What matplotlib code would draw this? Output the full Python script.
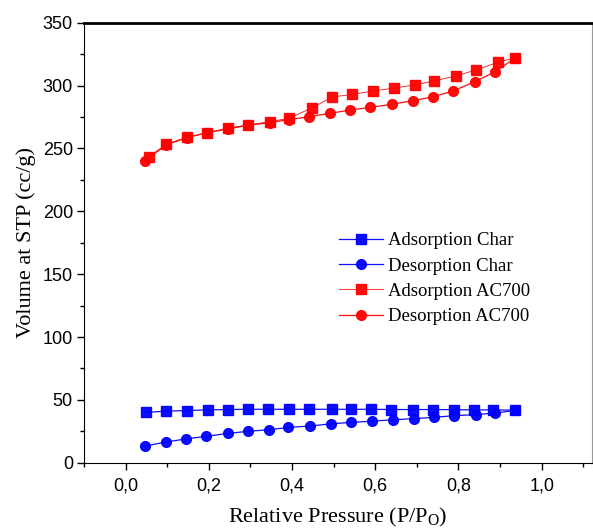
import matplotlib
matplotlib.use("Agg")
import matplotlib.pyplot as plt
from matplotlib.ticker import MultipleLocator, FuncFormatter

# relative pressure points
p_ads_char = [0.048, 0.098, 0.148, 0.197, 0.247, 0.294, 0.343, 0.392, 0.44, 0.495,
              0.542, 0.59, 0.637, 0.69, 0.738, 0.789, 0.837, 0.884, 0.936]
v_ads_char = [40.0, 41.0, 41.5, 42.0, 42.3, 42.5, 42.5, 42.5, 42.5, 42.5,
              42.5, 42.5, 42.3, 42.3, 42.3, 42.2, 42.0, 42.0, 41.8]

p_des_char = [0.047, 0.096, 0.145, 0.194, 0.246, 0.295, 0.344, 0.391, 0.443, 0.493,
              0.542, 0.593, 0.642, 0.694, 0.74, 0.79, 0.842, 0.887, 0.936]
v_des_char = [13.3, 16.4, 18.9, 21.0, 23.3, 25.0, 26.2, 28.0, 29.2, 30.9,
              32.1, 33.0, 34.2, 35.0, 36.1, 37.4, 38.3, 39.4, 41.6]

p_ads_ac = [0.055, 0.098, 0.147, 0.195, 0.246, 0.294, 0.346, 0.393, 0.447, 0.497,
            0.545, 0.594, 0.645, 0.696, 0.742, 0.795, 0.842, 0.894, 0.936]
v_ads_ac = [243.4, 253.3, 259.0, 262.5, 266.3, 268.7, 271.3, 274.0, 282.2, 291.0,
            293.0, 295.7, 298.0, 300.7, 303.7, 307.9, 312.4, 318.5, 322.2]

p_des_ac = [0.046, 0.098, 0.147, 0.195, 0.246, 0.294, 0.346, 0.393, 0.441, 0.492,
            0.54, 0.587, 0.639, 0.691, 0.739, 0.787, 0.839, 0.888, 0.936]
v_des_ac = [240.0, 253.0, 258.5, 262.5, 265.5, 268.5, 270.5, 273.0, 275.3, 278.0,
            280.6, 282.7, 285.1, 288.0, 291.2, 295.7, 303.1, 311.0, 322.0]

plt.rcParams["mathtext.default"] = "regular"
serif = "Liberation Serif"

fig = plt.figure(figsize=(5.93, 5.3), dpi=100)
ax = fig.add_axes([0.1417, 0.127, 0.856, 0.830])

ax.plot(p_ads_char, v_ads_char, color="blue", marker="s", ms=6.5, lw=0.9, alpha=0.95,
        label="Adsorption Char")
ax.plot(p_des_char, v_des_char, color="blue", marker="o", ms=7, lw=0.9, alpha=0.95,
        label="Desorption Char")
ax.plot(p_ads_ac, v_ads_ac, color="red", marker="s", ms=6.5, lw=0.6, alpha=0.95,
        label="Adsorption AC700")
ax.plot(p_des_ac, v_des_ac, color="red", marker="o", ms=7, lw=0.9, alpha=0.95,
        label="Desorption AC700")

ax.set_xlim(-0.1, 1.12)
ax.set_ylim(0, 350)
ax.xaxis.set_major_locator(MultipleLocator(0.2))
ax.xaxis.set_minor_locator(MultipleLocator(0.1))
ax.yaxis.set_major_locator(MultipleLocator(50))
ax.yaxis.set_minor_locator(MultipleLocator(25))
ax.xaxis.set_major_formatter(FuncFormatter(lambda v, pos: f"{v:.1f}".replace(".", ",")))

ax.tick_params(which="both", direction="out", labelsize=13, pad=3)
ax.tick_params(axis="x", which="major", pad=6)
ax.tick_params(which="major", length=5, width=1)
ax.tick_params(which="minor", length=3, width=1)
for lab in ax.get_xticklabels() + ax.get_yticklabels():
    lab.set_fontfamily("Liberation Sans")

ax.spines["top"].set_linewidth(2)
ax.spines["right"].set_color("#999999")
ax.spines["right"].set_linewidth(0.8)

ax.set_xlabel("Relative Pressure (P/P$_{O}$)", fontfamily=serif, fontsize=16, labelpad=8)
ax.set_ylabel("Volume at STP (cc/g)", fontfamily=serif, fontsize=16, labelpad=5)

ax.legend(loc="upper left", bbox_to_anchor=(0.502, 0.524), frameon=False,
          prop={"family": serif, "size": 13.5}, handlelength=2.35, handletextpad=0.27,
          labelspacing=0.44, borderaxespad=0, borderpad=0)

fig.savefig("out.png", dpi=100)
